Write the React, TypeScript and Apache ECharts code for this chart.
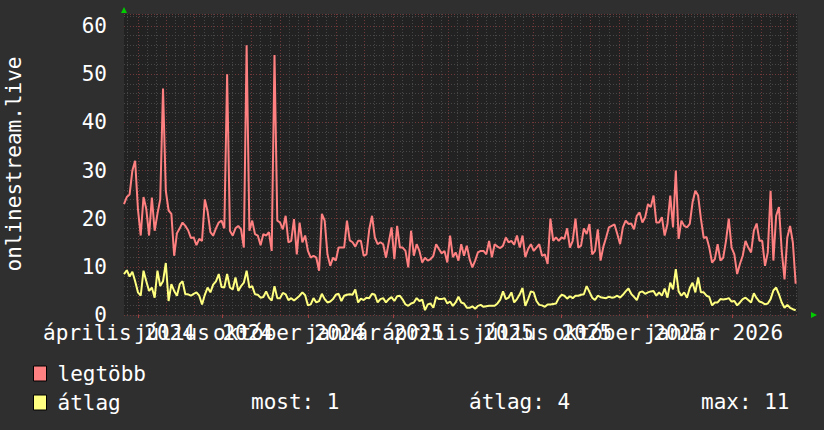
import React, { useEffect, useRef } from 'react';
import * as echarts from 'echarts';

// ---- data ----
const SERIES_NAMES = ['legtöbb', 'átlag'];
const START_UTC = Date.UTC(2024, 2, 17); // first sample
const STEP_DAYS = 3;
const X_MAX_DAYS = 725;
const Y_MAX = 62.5;
const Y_TITLE = 'onlinestream.live';
const HU_MONTHS = ['január', 'február', 'március', 'április', 'május', 'június', 'július', 'augusztus', 'szeptember', 'október', 'november', 'december'];
const LABEL_MONTHS: [number, number][] = [[2024, 3], [2024, 6], [2024, 9], [2025, 0], [2025, 3], [2025, 6], [2025, 9], [2026, 0]];
const STATS = ['most: 1', 'átlag: 4', 'max: 11'];

const MAX_VALUES = [
  23, 24.5, 25, 30, 32, 22, 16.5, 24.5, 22, 16.5, 24.4, 17.5, 21, 24, 47, 25.8, 21.7, 21, 12.3, 17,
  18, 19.2, 18.5, 17.6, 16, 16.1, 14.5, 15.8, 15.4, 24, 21.5, 17.2, 16.5, 18, 19.2, 19.6, 18, 50, 17.5, 16.5,
  18, 18.5, 17.8, 14, 56, 17.5, 19.6, 16.8, 16.5, 14.5, 16.8, 16.5, 17.2, 13.3, 54, 19.6, 19.2, 17.8, 20.6, 15.1,
  15.4, 19.9, 12.6, 19.2, 15.1, 16.5, 13.3, 11.9, 12.3, 11.9, 9.2, 21, 19.6, 12.6, 10.2, 11.9, 11.3, 14, 14, 14,
  19.6, 15.5, 15.1, 14.2, 15.4, 15.4, 12.3, 12.6, 17.8, 20.6, 16.1, 14.7, 15.1, 14.7, 11.9, 15.1, 18.2, 11.6, 18.5, 14,
  14, 13.3, 9.9, 17.5, 12.3, 14.7, 13.3, 10.9, 11.9, 11.3, 11.6, 12.3, 14.7, 13.7, 12.8, 13.3, 10.9, 16.5, 12, 13,
  11.3, 14.7, 12.3, 14.4, 11.6, 9.9, 11.3, 13, 13.3, 13.3, 12.6, 15.4, 12, 14.7, 14.2, 13.9, 14.4, 16.1, 15.1, 15.4,
  14.6, 16.5, 14, 16.5, 12, 13.7, 14.7, 13.3, 14, 14.7, 12.3, 12.6, 10.6, 20, 15.4, 16.1, 15.4, 16.1, 15.8, 18,
  14, 15.4, 20, 14, 14.4, 18, 16.8, 18.9, 12.6, 13.3, 17.8, 11.3, 14.2, 16.1, 18.2, 18.5, 18.8, 16.8, 14.7, 18.2,
  19.6, 18.9, 19, 17.8, 20.6, 21.3, 19.2, 20.3, 23, 22.4, 24.8, 19.2, 19.2, 20.3, 16.5, 18.9, 24.8, 18.2, 30, 15.8,
  19.6, 18.5, 18.2, 18.9, 23.4, 25.8, 24.8, 20, 16, 16.2, 14, 10.9, 11.6, 14.7, 11.3, 11.9, 15.4, 20, 14, 12.6,
  8.5, 10.6, 12.3, 15.4, 14, 13, 17.5, 19, 15.4, 15.4, 10.2, 13, 25.8, 11.3, 20.6, 22.4, 13.3, 7.4, 16.1, 18.5,
  15, 6.5,
];

const AVG_VALUES = [
  8.5, 9.3, 8, 9, 7, 4.7, 4, 9.2, 7, 5, 5.7, 3.6, 9.2, 6, 7, 10.8, 2.9, 6.4, 5, 4,
  6.4, 7, 4.3, 4.3, 4, 4.4, 4.7, 4, 2.2, 4.2, 5.7, 4.7, 6.3, 7, 8.5, 5.8, 5.7, 8.5, 5.7, 5.3,
  7.8, 5, 6, 6.7, 9.2, 5.7, 6, 4.3, 4.2, 3.6, 3.75, 4.9, 3.6, 3, 6, 3.5, 3.5, 4.6, 4.3, 3.1,
  3.5, 3, 3.5, 4, 4.7, 4.1, 2, 2.2, 3.5, 2.6, 2.9, 4.4, 3.3, 2.6, 2.8, 3.3, 4.2, 4.4, 2.9, 4,
  4.2, 4.3, 4.2, 5.3, 2.6, 3.4, 3.1, 3.6, 3.5, 4.4, 4.2, 2.6, 3.3, 3.5, 2.6, 3.3, 3.7, 2.9, 3.9, 4,
  3.2, 2.2, 1.9, 2.4, 2.6, 3.5, 2.9, 3.2, 1, 2.2, 2.4, 1.5, 3.75, 3.3, 3.3, 3.5, 2.4, 2.8, 1.9, 2.6,
  3.8, 2.6, 2.4, 1.5, 1.5, 1.8, 1.3, 1.9, 2.1, 1.7, 1.8, 1.9, 1.9, 1.9, 2.4, 3.2, 4.9, 3.3, 3.6, 4.7,
  2.6, 3.3, 4.3, 5.6, 1.9, 3.3, 4.9, 4.7, 2.9, 2.1, 2, 1.7, 2.2, 2.2, 2.3, 2.4, 3.5, 4.2, 4, 3.4,
  3.9, 3.5, 4, 4, 4.2, 4.3, 6, 4.8, 3.6, 3.1, 4, 3.7, 3.6, 3.5, 3.8, 3.6, 3.7, 4, 3.6, 4.2,
  4.9, 5.5, 4.4, 3.75, 3.1, 4.7, 4.9, 4.4, 4.7, 4.9, 5, 4, 4.7, 4, 5.5, 3.6, 6.7, 5.3, 9.5, 4.9,
  4, 4.7, 3.6, 5.6, 6.7, 4.7, 7.8, 4.7, 4.7, 4, 3.75, 2, 2.6, 2.6, 3.3, 3.2, 3.3, 3.5, 2.8, 2.9,
  2, 2.6, 3.3, 3.6, 3.1, 2.6, 4.5, 3.5, 2.8, 2.6, 2.2, 2.4, 3.3, 5.1, 5.7, 4.3, 2.6, 1.5, 2.1, 1.5,
  1.2, 1,
];

// ---- styling ----
const MONO = "'DejaVu Sans Mono', 'Liberation Mono', monospace";
const FONT_SIZE = 21;
const COLOR_MAX = '#ff8080';
const COLOR_AVG = '#ffff80';
const BG = '#2f2f2f';
const CANVAS = '#222222';
const MAJOR_GRID = '#703838';
const MINOR_GRID = '#474747';

const dayOf = (y: number, m: number, d: number) => Math.round((Date.UTC(y, m, d) - START_UTC) / 86400000);

export default function App() {
  const ref = useRef<HTMLDivElement>(null);

  useEffect(() => {
    if (!ref.current) return;
    const chart = echarts.init(ref.current, null, { renderer: 'svg' });

    const tickDays = LABEL_MONTHS.map(([y, m]) => dayOf(y, m, 1));
    const labelText: Record<number, string> = {};
    LABEL_MONTHS.forEach(([y, m], i) => {
      labelText[tickDays[i]] = `${HU_MONTHS[m]} ${y}`;
    });
    // spread labels across 3 stacked axes so that ECharts does not drop overlapping ones
    const groups = [0, 1, 2].map((g) => tickDays.filter((_, i) => i % 3 === g));

    const minorLines: any[] = [];
    const majorLines: any[] = [];
    for (let k = -1; k < 25; k++) {
      const y = 2024 + Math.floor((2 + k) / 12);
      const m = (2 + k) % 12;
      const d1 = dayOf(y, m, 1);
      [11, 21].forEach((dd) => {
        const d = dayOf(y, m, dd);
        if (d > 0 && d < X_MAX_DAYS) minorLines.push({ xAxis: d, lineStyle: { color: MINOR_GRID, type: [1, 2], width: 1 } });
      });
      if (d1 > 0 && d1 < X_MAX_DAYS) majorLines.push({ xAxis: d1, lineStyle: { color: MAJOR_GRID, type: [1, 2], width: 1 } });
    }

    // rrdtool places month labels a little left of their tick: pad with trailing spaces (monospace)
    const labelStyle = {
      formatter: (v: number) => {
        const t = labelText[Math.round(v)];
        return t ? t + '   ' : '';
      },
      color: '#ffffff',
      fontSize: FONT_SIZE,
      fontFamily: MONO,
      margin: 7,
      hideOverlap: false,
      showMinLabel: true,
      showMaxLabel: true,
    };

    const xAxes = groups.map((vals, g) => ({
      type: 'value',
      min: 0,
      max: X_MAX_DAYS,
      position: 'bottom',
      offset: 0,
      axisLine: { show: false },
      axisTick: g === 0 ? { show: true, customValues: tickDays, length: 3, lineStyle: { color: '#a04040' } } : { show: false },
      axisLabel: { ...labelStyle, customValues: vals },
      splitLine: { show: false },
    }));

    const option: any = {
      animation: false,
      backgroundColor: BG,
      grid: { left: 124, right: 14, top: 14, bottom: 115, show: true, backgroundColor: CANVAS, borderWidth: 0 },
      legend: {
        data: SERIES_NAMES.map((n) => ({ name: n, icon: 'rect' })),
        orient: 'vertical',
        left: 33,
        top: 363,
        itemWidth: 13,
        itemHeight: 15,
        itemGap: 8,
        padding: 0,
        selectedMode: false,
        itemStyle: { borderColor: '#000', borderWidth: 1 },
        textStyle: { color: '#ffffff', fontSize: FONT_SIZE, fontFamily: MONO, padding: [0, 0, 0, 6] },
      },
      xAxis: xAxes,
      yAxis: [
        {
          type: 'value',
          min: 0,
          max: Y_MAX,
          interval: 10,
          position: 'left',
          axisLabel: { color: '#ffffff', fontSize: FONT_SIZE, fontFamily: MONO, margin: 17, showMaxLabel: false },
          axisLine: { show: false },
          axisTick: { show: false },
          splitLine: { show: true, lineStyle: { color: MAJOR_GRID, type: [1, 2], width: 1 } },
          z: 1,
        },
        {
          type: 'value',
          min: 0,
          max: Y_MAX,
          interval: 2,
          position: 'left',
          axisLabel: { show: false },
          axisLine: { show: false },
          axisTick: { show: false },
          splitLine: { show: true, lineStyle: { color: MINOR_GRID, type: [1, 2], width: 1 } },
          z: 0,
        },
      ],
      series: [
        {
          type: 'line',
          data: [],
          silent: true,
          z: 1,
          markLine: {
            silent: true,
            z: 1,
            symbol: ['none', 'none'],
            label: { show: false },
            data: [...minorLines, ...majorLines],
          },
        },
        {
          name: SERIES_NAMES[0],
          type: 'line',
          data: MAX_VALUES.map((v, i) => [i * STEP_DAYS, v]),
          showSymbol: false,
          symbol: 'none',
          silent: true,
          lineStyle: { color: COLOR_MAX, width: 2 },
          itemStyle: { color: COLOR_MAX },
          z: 3,
        },
        {
          name: SERIES_NAMES[1],
          type: 'line',
          data: AVG_VALUES.map((v, i) => [i * STEP_DAYS, v]),
          showSymbol: false,
          symbol: 'none',
          silent: true,
          lineStyle: { color: COLOR_AVG, width: 2 },
          itemStyle: { color: COLOR_AVG },
          z: 4,
        },
      ],
      graphic: [
        {
          type: 'text',
          x: 14,
          y: 164,
          rotation: Math.PI / 2,
          style: { text: Y_TITLE, fill: '#ffffff', fontSize: FONT_SIZE, fontFamily: MONO, align: 'center', verticalAlign: 'middle' },
        },
        { type: 'text', x: 251, y: 402, style: { text: STATS[0], fill: '#ffffff', fontSize: FONT_SIZE, fontFamily: MONO, verticalAlign: 'middle' } },
        { type: 'text', x: 469, y: 402, style: { text: STATS[1], fill: '#ffffff', fontSize: FONT_SIZE, fontFamily: MONO, verticalAlign: 'middle' } },
        { type: 'text', x: 701, y: 402, style: { text: STATS[2], fill: '#ffffff', fontSize: FONT_SIZE, fontFamily: MONO, verticalAlign: 'middle' } },
        { type: 'polygon', shape: { points: [[121, 13], [127, 13], [124, 7]] }, style: { fill: '#00cc00' } },
        { type: 'polygon', shape: { points: [[811, 312], [811, 318], [817, 315]] }, style: { fill: '#00cc00' } },
      ],
    };

    chart.setOption(option);
    return () => chart.dispose();
  }, []);

  return <div ref={ref} style={{ position: 'absolute', left: 0, top: 0, width: 824, height: 430 }} />;
}
